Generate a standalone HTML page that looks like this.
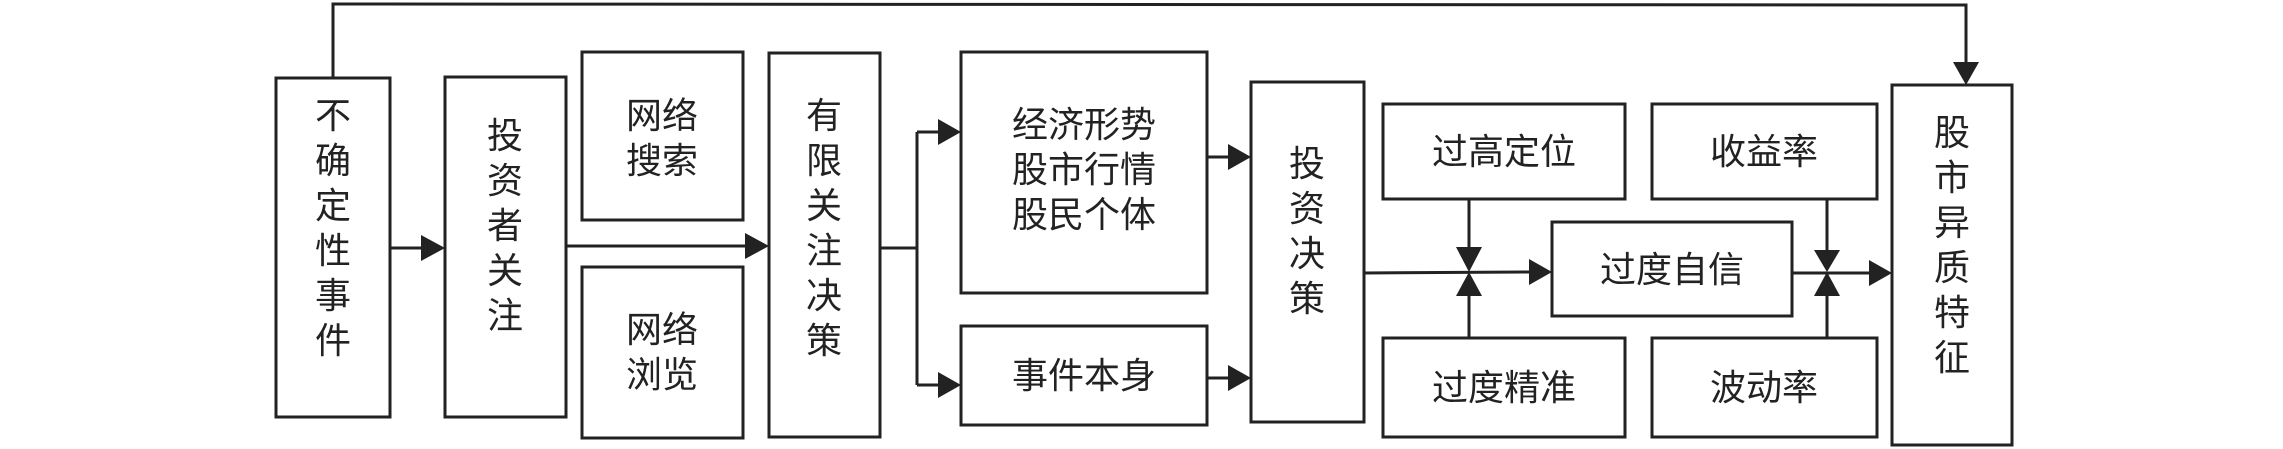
<!DOCTYPE html>
<html><head><meta charset="utf-8"><style>
html,body{margin:0;padding:0;background:#fff;}
svg{display:block;}
text{font-family:"Liberation Sans","WenQuanYi Zen Hei","Noto Sans CJK SC",sans-serif;font-size:36px;fill:#222;text-anchor:middle;}
</style></head><body>
<svg width="2283" height="449" viewBox="0 0 2283 449" xmlns="http://www.w3.org/2000/svg">
<g fill="none" stroke="#222" stroke-width="3">
<rect x="276" y="78" width="114" height="339"/>
<rect x="445" y="77" width="121" height="340"/>
<rect x="582" y="52" width="161" height="168"/>
<rect x="582" y="267" width="161" height="171"/>
<rect x="769" y="53" width="111" height="384"/>
<rect x="961" y="52" width="246" height="241"/>
<rect x="961" y="326" width="246" height="99"/>
<rect x="1251" y="82" width="113" height="340"/>
<rect x="1383" y="104" width="242" height="95"/>
<rect x="1652" y="104" width="225" height="95"/>
<rect x="1552" y="222" width="240" height="94"/>
<rect x="1383" y="338" width="242" height="99"/>
<rect x="1652" y="338" width="225" height="99"/>
<rect x="1892" y="85" width="120" height="360"/>
<polyline points="333,78 333,4 1966,5 1966,65"/>
<line x1="390" y1="248" x2="425" y2="248"/>
<line x1="566" y1="246" x2="749" y2="246"/>
<polyline points="880,248 917,248"/>
<line x1="917" y1="132" x2="917" y2="385"/>
<line x1="917" y1="132" x2="942" y2="132"/>
<line x1="917" y1="385" x2="942" y2="385"/>
<line x1="1207" y1="157" x2="1232" y2="157"/>
<line x1="1207" y1="378" x2="1232" y2="378"/>
<line x1="1364" y1="273" x2="1530" y2="272"/>
<line x1="1469" y1="199" x2="1469" y2="250"/>
<line x1="1469" y1="294" x2="1469" y2="338"/>
<line x1="1792" y1="273" x2="1872" y2="273"/>
<line x1="1827" y1="199" x2="1827" y2="250"/>
<line x1="1827" y1="296" x2="1827" y2="338"/>
</g>
<g fill="#222">
<polygon points="445,248 421,235 421,261"/>
<polygon points="769,246 745,233 745,259"/>
<polygon points="961,132 938,119 938,145"/>
<polygon points="961,385 938,372 938,398"/>
<polygon points="1251,157 1228,144 1228,170"/>
<polygon points="1251,378 1228,365 1228,391"/>
<polygon points="1552,272 1529,259 1529,285"/>
<polygon points="1892,273 1869,260 1869,286"/>
<polygon points="1966,85 1953,62 1979,62"/>
<polygon points="1469,272 1456,247 1482,247"/>
<polygon points="1469,272 1456,296 1482,296"/>
<polygon points="1827,272 1814,250 1840,250"/>
<polygon points="1827,272 1814,296 1840,296"/>
</g>
<g>
<text x="333" y="128">不</text><text x="333" y="173">确</text><text x="333" y="218">定</text><text x="333" y="263">性</text><text x="333" y="308">事</text><text x="333" y="353">件</text>
<text x="505" y="148">投</text><text x="505" y="193">资</text><text x="505" y="238">者</text><text x="505" y="283">关</text><text x="505" y="328">注</text>
<text x="662" y="128">网络</text><text x="662" y="173">搜索</text>
<text x="662" y="342">网络</text><text x="662" y="387">浏览</text>
<text x="824" y="128">有</text><text x="824" y="173">限</text><text x="824" y="218">关</text><text x="824" y="263">注</text><text x="824" y="308">决</text><text x="824" y="353">策</text>
<text x="1084" y="137">经济形势</text><text x="1084" y="182">股市行情</text><text x="1084" y="227">股民个体</text>
<text x="1084" y="388">事件本身</text>
<text x="1307" y="176">投</text><text x="1307" y="221">资</text><text x="1307" y="266">决</text><text x="1307" y="311">策</text>
<text x="1504" y="164">过高定位</text>
<text x="1764" y="164">收益率</text>
<text x="1672" y="282">过度自信</text>
<text x="1504" y="400">过度精准</text>
<text x="1764" y="400">波动率</text>
<text x="1952" y="145">股</text><text x="1952" y="190">市</text><text x="1952" y="235">异</text><text x="1952" y="280">质</text><text x="1952" y="325">特</text><text x="1952" y="370">征</text>
</g>
</svg>
</body></html>
